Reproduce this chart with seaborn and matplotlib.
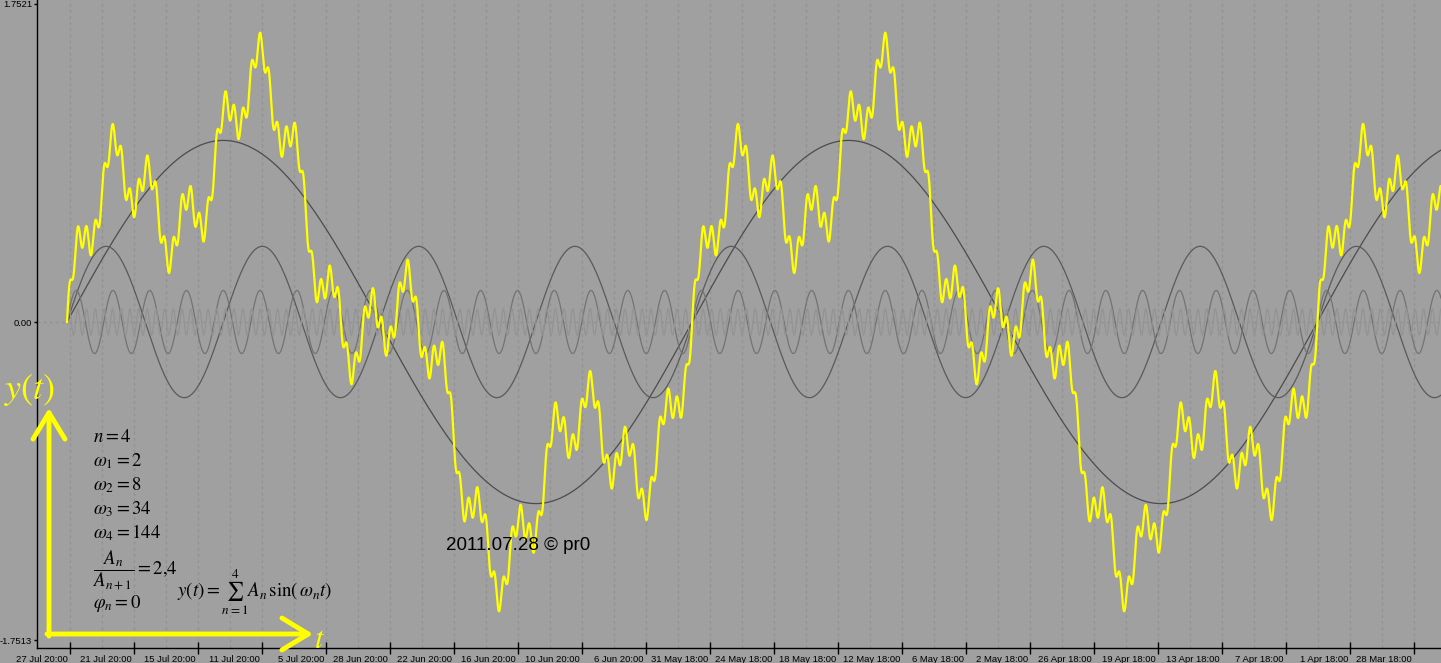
import numpy as np
import pandas as pd
import matplotlib
matplotlib.use("Agg")
import matplotlib.pyplot as plt
import matplotlib.transforms as mtransforms
from matplotlib.ticker import FixedLocator
import seaborn as sns

# Параметры ряда, как подписано на графике
omegas = [2, 8, 34, 144]
amplitudes = [1.0, 1 / 2.4, 1 / 2.4 ** 2, 1 / 2.4 ** 3]
t_end = 6.905

x_labels = ["27 Jul 20:00", "21 Jul 20:00", "15 Jul 20:00", "11 Jul 20:00",
            "5 Jul 20:00", "28 Jun 20:00", "22 Jun 20:00", "16 Jun 20:00",
            "10 Jun 20:00", "6 Jun 20:00", "31 May 18:00", "24 May 18:00",
            "18 May 18:00", "12 May 18:00", "6 May 18:00", "2 May 18:00",
            "26 Apr 18:00", "19 Apr 18:00", "13 Apr 18:00", "7 Apr 18:00",
            "1 Apr 18:00", "28 Mar 18:00"]
y_ticks = [1.7521, 0.0, -1.7513]
y_labels = ["1.7521", "0.00", "-1.7513"]

component_colors = ["#4c4c4c", "#5a5a5a", "#737373", "#939393"]
bg = "#a0a0a0"

# Ряд
t = np.linspace(0, t_end, 7000)
frames = []
for k, (w, a) in enumerate(zip(omegas, amplitudes)):
    frames.append(pd.DataFrame({"t": t, "y": a * np.sin(w * t), "comp": k}))
df = pd.concat(frames, ignore_index=True)
total = df.groupby("t", as_index=False)["y"].sum()

W, H = 1441, 663
fig = plt.figure(figsize=(W / 100, H / 100), dpi=100, facecolor=bg)
ax = fig.add_axes([37 / W, 15 / H, (W - 37) / W, 648 / H])
ax.set_facecolor(bg)

px_x = 199.0   # пикселей на единицу t
px_y = 181.6   # пикселей на единицу y
ax.set_xlim((37 - 67) / px_x, (W - 67) / px_x)
ax.set_ylim(-326 / px_y, 322 / px_y)

# Сетка
major = [(70 - 67) / px_x + i * 64 / px_x for i in range(len(x_labels))]
minor = [m + 32 / px_x for m in major]
ax.xaxis.set_major_locator(FixedLocator(major))
ax.xaxis.set_minor_locator(FixedLocator(minor))
ax.grid(which="both", axis="x", color="#929292", lw=1, ls=(0, (2.2, 2.2)), zorder=0)
ax.axhline(0, color="#929292", lw=1, ls=(0, (2.2, 2.2)), zorder=0)

for k in range(len(omegas)):
    sns.lineplot(data=df[df["comp"] == k], x="t", y="y", color=component_colors[k],
                 lw=0.9, estimator=None, ax=ax, zorder=2)
sns.lineplot(data=total, x="t", y="y", color="#ffff00", lw=1.6, estimator=None,
             ax=ax, zorder=3)

ax.set_xlabel("")
ax.set_ylabel("")
ax.set_xticklabels(x_labels, ha="right", fontsize=6.8, family="Liberation Sans")
ax.set_yticks(y_ticks)
ax.set_yticklabels(y_labels, fontsize=6.8, family="Liberation Sans")
ax.tick_params(axis="x", which="major", direction="inout", length=8, width=1, pad=1)
ax.tick_params(axis="x", which="minor", length=0)
ax.tick_params(axis="y", direction="out", length=2.5, width=1, pad=1)
off = mtransforms.ScaledTranslation(-1.5 / 72, 0, fig.dpi_scale_trans)
for lab in ax.get_xticklabels():
    lab.set_transform(lab.get_transform() + off)

for s in ["top", "right"]:
    ax.spines[s].set_visible(False)
for s in ["left", "bottom"]:
    ax.spines[s].set_color("black")
    ax.spines[s].set_linewidth(1)

# Подписи
plt.rcParams["mathtext.fontset"] = "stix"


def fx(x):
    return x / W


def fy(y):
    return 1 - y / H


fs = 13.5
fig.text(fx(93), fy(437), r"$n = 4$", fontsize=fs, va="center")
fig.text(fx(93), fy(461), r"$\omega_1 = 2$", fontsize=fs, va="center")
fig.text(fx(93), fy(485), r"$\omega_2 = 8$", fontsize=fs, va="center")
fig.text(fx(93), fy(509), r"$\omega_3 = 34$", fontsize=fs, va="center")
fig.text(fx(93), fy(533), r"$\omega_4 = 144$", fontsize=fs, va="center")
fig.text(fx(93), fy(570), r"$\dfrac{A_n}{A_{n+1}} = 2{,}4$", fontsize=fs, va="center")
fig.text(fx(93), fy(604), r"$\varphi_n = 0$", fontsize=fs, va="center")
fig.text(fx(177), fy(592), r"$y(t) = \sum_{n=1}^{4} A_n\,\sin(\,\omega_n t)$",
         fontsize=fs, va="center")

fig.text(fx(446), fy(546), "2011.07.28 © pr0", fontsize=13.5, va="center",
         family="Liberation Sans", color="black")

fig.text(fx(30), fy(390), r"$y(t)$", fontsize=26, color="#ffff00", ha="center", va="center")
fig.text(fx(320), fy(640), r"$t$", fontsize=22, color="#ffff00", ha="center", va="center")

arrow = dict(arrowstyle="->, head_length=1.9, head_width=1.15", color="#ffff00",
             lw=3.5, mutation_scale=10, shrinkA=0, shrinkB=0)
ax.annotate("", xy=(313, H - 634), xytext=(47, H - 634), xycoords="figure pixels",
            textcoords="figure pixels", arrowprops=arrow)
ax.annotate("", xy=(49, H - 408), xytext=(49, H - 636), xycoords="figure pixels",
            textcoords="figure pixels", arrowprops=arrow)

fig.savefig("out.png", dpi=100, facecolor=bg)
